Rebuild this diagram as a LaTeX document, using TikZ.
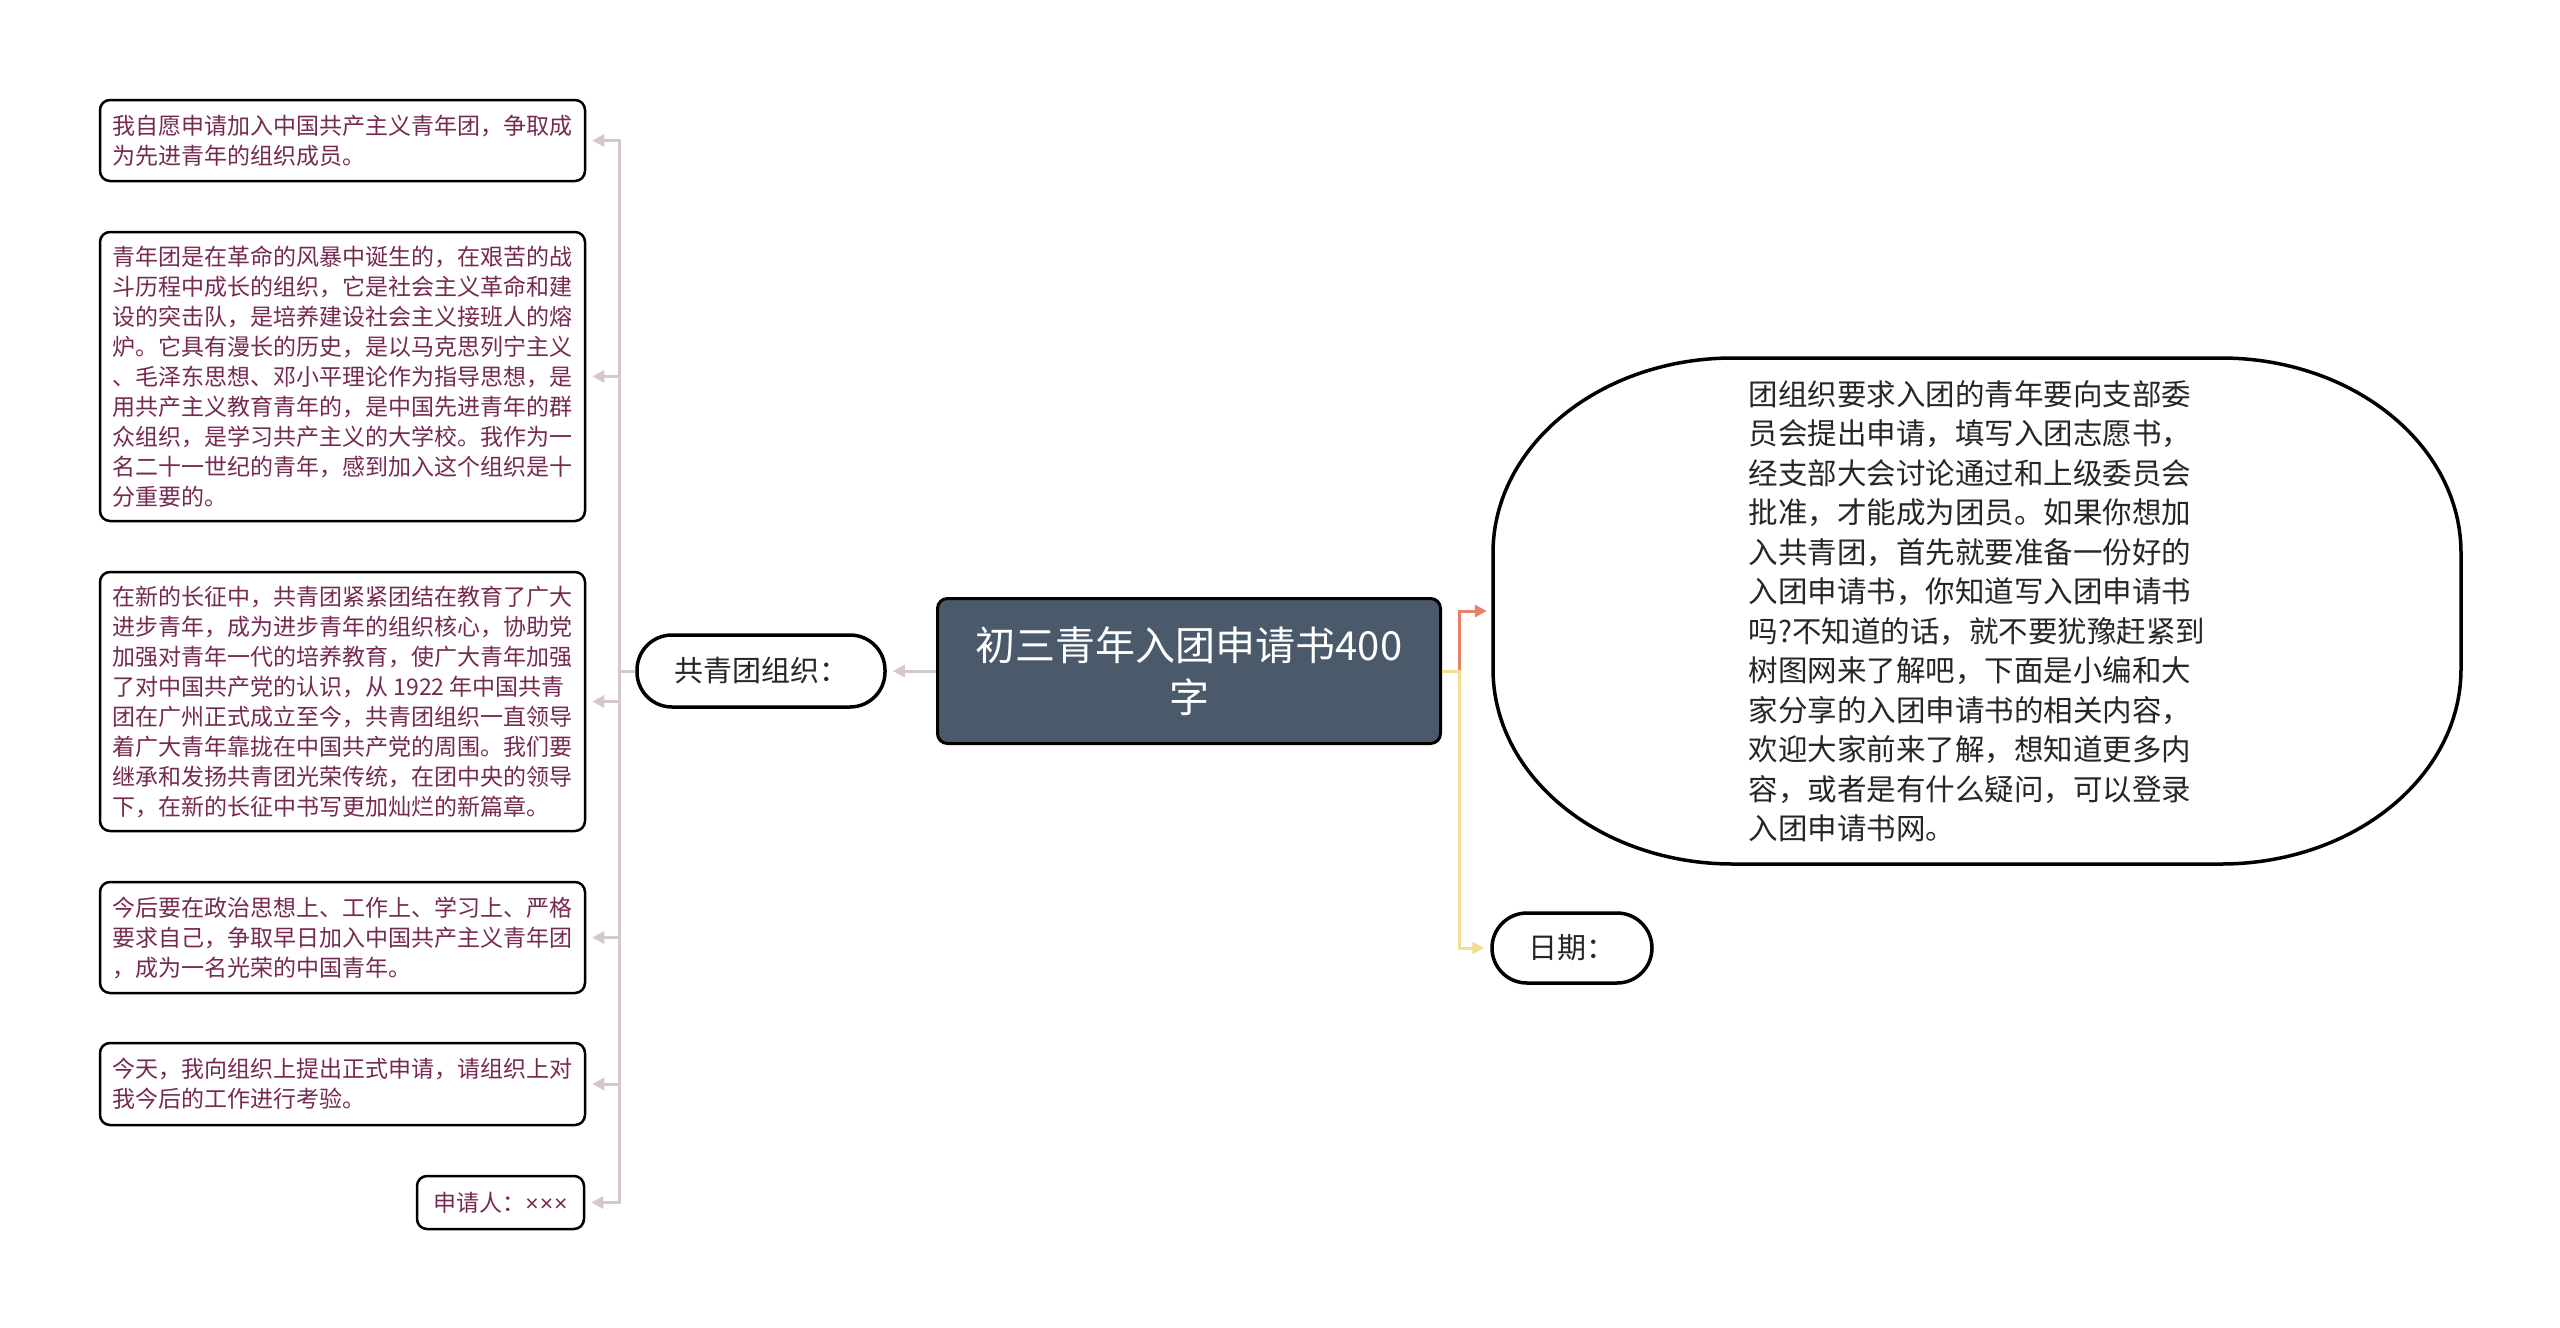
\documentclass[tikz,border=0pt]{standalone}
\usepackage{fontspec}
\setmainfont{Noto Sans CJK SC}
\newfontfamily\latinfont{Liberation Sans}
\usetikzlibrary{arrows.meta}
\definecolor{lnk}{RGB}{214,199,207}
\definecolor{boxtext}{RGB}{118,42,82}
\definecolor{orangeln}{RGB}{233,128,104}
\definecolor{yellowln}{RGB}{243,221,145}
\definecolor{rootfill}{RGB}{74,90,106}
\definecolor{darktext}{RGB}{38,38,38}
\begin{document}
\begin{tikzpicture}[x=1pt,y=-1pt,
  leaf/.style={draw=black, line width=2.5pt, rounded corners=10pt, fill=white,
    inner sep=0pt, align=left, text=boxtext, font=\fontsize{23}{30}\selectfont,
    minimum width=485pt},
  pill/.style={draw=black, line width=3.5pt, rounded corners=35pt, fill=white,
    inner sep=0pt, text=darktext, font=\fontsize{29}{36}\selectfont},
  rootbox/.style={draw=black, line width=3pt, rounded corners=10pt, fill=rootfill,
    inner sep=0pt, align=center, text=white, font=\fontsize{40}{52}\selectfont,
    minimum width=503pt, minimum height=145pt},
  tip/.style={-{Triangle[length=12pt,width=12pt]}, shorten >=6pt},
  leftln/.style={draw=lnk, line width=3pt, tip},
  orangelnk/.style={draw=orangeln, line width=3pt, tip},
  yellowlnk/.style={draw=yellowln, line width=3pt, tip},
  bigline/.style={draw=black, line width=3.5pt}
]
\useasboundingbox[fill=white] (0,0) rectangle (2560,1328);

% root
\node[rootbox] (root) at (1189,671) {初三青年入团申请书400\\字};

% left branch
\node[pill, minimum width=248pt, minimum height=72pt] (gq) at (761,671) {共青团组织：};

\node[leaf, minimum height=81pt] (b1) at (342.5,140.5)
 {我自愿申请加入中国共产主义青年团，争取成\\为先进青年的组织成员。};
\node[leaf, minimum height=289pt] (b2) at (342.5,376.5)
 {青年团是在革命的风暴中诞生的，在艰苦的战\\斗历程中成长的组织，它是社会主义革命和建\\设的突击队，是培养建设社会主义接班人的熔\\炉。它具有漫长的历史，是以马克思列宁主义\\、毛泽东思想、邓小平理论作为指导思想，是\\用共产主义教育青年的，是中国先进青年的群\\众组织，是学习共产主义的大学校。我作为一\\名二十一世纪的青年，感到加入这个组织是十\\分重要的。};
\node[leaf, minimum height=259pt] (b3) at (342.5,701.5)
 {在新的长征中，共青团紧紧团结在教育了广大\\进步青年，成为进步青年的组织核心，协助党\\加强对青年一代的培养教育，使广大青年加强\\了对中国共产党的认识，从 1922 年中国共青\\团在广州正式成立至今，共青团组织一直领导\\着广大青年靠拢在中国共产党的周围。我们要\\继承和发扬共青团光荣传统，在团中央的领导\\下，在新的长征中书写更加灿烂的新篇章。};
\node[leaf, minimum height=111pt] (b4) at (342.5,937.5)
 {今后要在政治思想上、工作上、学习上、严格\\要求自己，争取早日加入中国共产主义青年团\\，成为一名光荣的中国青年。};
\node[leaf, minimum height=82pt] (b5) at (342.5,1084)
 {今天，我向组织上提出正式申请，请组织上对\\我今后的工作进行考验。};
\node[leaf, minimum width=167pt, minimum height=53pt] (b6) at (500.5,1202.5)
 {申请人：{\latinfont ×\kern1pt×\kern1pt×}};

\coordinate (trunk) at (619,671);
\draw[leftln] (root.west) -- (gq.east);
\foreach \b in {b1,b2,b3,b4,b5,b6}{
  \draw[leftln] (gq.west) -- (trunk) |- (\b.east);
}

% right branch
\node[inner sep=0pt, minimum width=968pt, minimum height=506pt, align=left,
  text=darktext, font=\fontsize{29.5}{39.5}\selectfont] (intro) at (1977,611)
 {团组织要求入团的青年要向支部委\\员会提出申请，填写入团志愿书，\\经支部大会讨论通过和上级委员会\\批准，才能成为团员。如果你想加\\入共青团，首先就要准备一份好的\\入团申请书，你知道写入团申请书\\吗?不知道的话，就不要犹豫赶紧到\\树图网来了解吧，下面是小编和大\\家分享的入团申请书的相关内容，\\欢迎大家前来了解，想知道更多内\\容，或者是有什么疑问，可以登录\\入团申请书网。};
\draw[bigline] (1493,553)
  arc[start angle=180, end angle=90, x radius=240pt, y radius=195pt]
  -- (2221,358)
  arc[start angle=90, end angle=0, x radius=240pt, y radius=195pt]
  -- (2461,669)
  arc[start angle=0, end angle=-90, x radius=240pt, y radius=195pt]
  -- (1733,864)
  arc[start angle=-90, end angle=-180, x radius=240pt, y radius=195pt]
  -- cycle;

\node[pill, minimum width=160pt, minimum height=70pt] (date) at (1572,948) {日期：};

\coordinate (rj) at (1459,671);
\draw[orangelnk] (root.east) -- (rj) |- (intro.west);
\draw[yellowlnk] (root.east) -- (rj) |- (date.west);
\end{tikzpicture}
\end{document}
